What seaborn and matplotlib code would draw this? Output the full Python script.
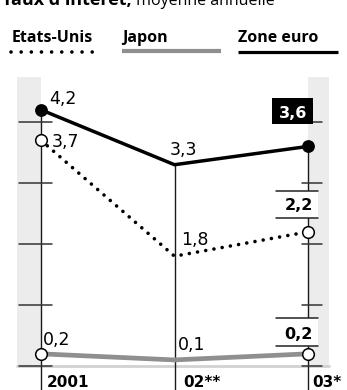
import matplotlib
matplotlib.use("Agg")
import matplotlib.pyplot as plt
import seaborn as sns
import pandas as pd
from matplotlib.patches import Rectangle

# Interest rates, annual average
years = ["2001", "02**", "03*"]
usa = [3.7, 1.8, 2.2]
japan = [0.2, 0.1, 0.2]
euro = [4.2, 3.3, 3.6]
series_names = ["Etats-Unis", "Japon", "Zone euro"]
title_bold = "Taux d'intérêt,"
title_rest = " moyenne annuelle"

sns.set_theme(style="white")
plt.rcParams["font.family"] = ["Open Sans", "DejaVu Sans"]
plt.rcParams["text.color"] = "black"
NUM_FONT = ["DejaVu Sans"]

pos = list(range(len(years)))
df = pd.DataFrame({
    "x": pos * 3,
    "value": usa + japan + euro,
    "series": [series_names[0]] * 3 + [series_names[1]] * 3 + [series_names[2]] * 3,
})

W, H = 347, 390
fig = plt.figure(figsize=(W / 100, H / 100), dpi=100)
ax = fig.add_axes([0, 0, 1, 1])
ax.set_xlim(-0.307, 2.292)
ax.set_ylim(-0.393, 6.0)
ax.axis("off")

def fmt(v):
    return f"{v:.1f}".replace(".", ",")

# shaded side panels and base line
ax.add_patch(Rectangle((-0.18, 0), 0.18, 4.74, color="#ececec", lw=0, zorder=0))
ax.add_patch(Rectangle((2.0, 0), 0.157, 4.74, color="#ececec", lw=0, zorder=0))
ax.plot([-0.18, 2.157], [0, 0], color="#d2d2d2", lw=2.0, zorder=1)

# vertical axes for each year
for x, top in zip(pos, euro):
    ax.plot([x, x], [-0.4, top], color="#1a1a1a", lw=1.0, zorder=2)

# tick marks on the side axes
for t in range(5):
    ax.plot([-0.165, 0.082], [t, t], color="#333333", lw=1.1, zorder=2)
    ax.plot([1.955, 2.105], [t, t], color="#333333", lw=1.1, zorder=2)

# series lines
sub = df[df.series == series_names[1]]
sns.lineplot(data=sub, x="x", y="value", ax=ax, color="#8f8f8f", lw=3.4,
             solid_capstyle="butt", zorder=3, legend=False)
sub = df[df.series == series_names[0]]
sns.lineplot(data=sub, x="x", y="value", ax=ax, color="black", lw=2.6,
             linestyle=(0, (0.01, 2.3)), dash_capstyle="round", zorder=4, legend=False)
sub = df[df.series == series_names[2]]
sns.lineplot(data=sub, x="x", y="value", ax=ax, color="black", lw=2.5,
             solid_capstyle="round", zorder=5, legend=False)

ends = df[df.x != 1]
open_pts = ends[ends.series != series_names[2]]
sns.scatterplot(data=open_pts, x="x", y="value", ax=ax, color="white",
                edgecolor="black", linewidth=1.1, s=70, zorder=6, legend=False)
filled = ends[ends.series == series_names[2]]
sns.scatterplot(data=filled, x="x", y="value", ax=ax, color="black",
                edgecolor="black", linewidth=0, s=85, zorder=6, legend=False)

# value labels
fs = 12.5
lab = dict(fontsize=fs, va="baseline", zorder=7, family=NUM_FONT)
ax.text(0.062, 4.29, fmt(euro[0]), **lab)
ax.text(0.082, 3.59, fmt(usa[0]), **lab)
ax.text(0.012, 0.344, fmt(japan[0]), **lab)
ax.text(0.962, 3.46, fmt(euro[1]), **lab)
ax.text(1.052, 1.98, fmt(usa[1]), **lab)
ax.text(1.022, 0.262, fmt(japan[1]), **lab)

# highlighted labels for the last year
bfs = 11.5
ax.add_patch(Rectangle((1.73, 3.97), 0.307, 0.42, color="black", lw=0, zorder=8))
ax.text(1.885, 4.07, fmt(euro[2]), fontsize=bfs, fontweight="bold", color="white",
        ha="center", va="baseline", zorder=9, family=NUM_FONT)
for (lo, hi), v, base in [((2.43, 2.87), usa[2], 2.56), ((0.328, 0.787), japan[2], 0.443)]:
    ax.plot([1.76, 2.075], [hi, hi], color="#222222", lw=1.1, zorder=8)
    ax.plot([1.76, 2.075], [lo, lo], color="#222222", lw=1.1, zorder=8)
    ax.add_patch(Rectangle((1.76, lo), 0.315, hi - lo, color="white", lw=0, zorder=7))
    ax.text(1.93, base, fmt(v), fontsize=bfs, fontweight="bold",
            ha="center", va="baseline", zorder=9, family=NUM_FONT)

# year labels
for x, yl in zip([0.045, 1.064, 2.03], years):
    ax.text(x, -0.344, yl, fontsize=11, fontweight="bold", va="baseline",
            zorder=7, family=NUM_FONT)

# legend
ax.text(-0.217, 5.31, series_names[0], fontsize=11.5, fontweight="bold", va="baseline")
ax.text(0.607, 5.31, series_names[1], fontsize=11.5, fontweight="bold", va="baseline")
ax.text(1.476, 5.31, series_names[2], fontsize=11.5, fontweight="bold", va="baseline")
ax.plot([-0.225, 0.39], [5.15, 5.15], color="black", lw=2.6,
        linestyle=(0, (0.01, 2.8)), dash_capstyle="round")
ax.plot([0.607, 1.348], [5.165, 5.165], color="#8f8f8f", lw=3.0, solid_capstyle="butt")
ax.plot([1.476, 2.225], [5.155, 5.155], color="black", lw=2.3, solid_capstyle="butt")

# title
t = ax.text(-0.29, 5.915, title_bold, fontsize=13, fontweight="bold", va="baseline")
fig.canvas.draw()
ax.annotate(title_rest, xycoords=t, xy=(1, 0), va="bottom", fontsize=11.5)

fig.savefig("out.png", dpi=100)
